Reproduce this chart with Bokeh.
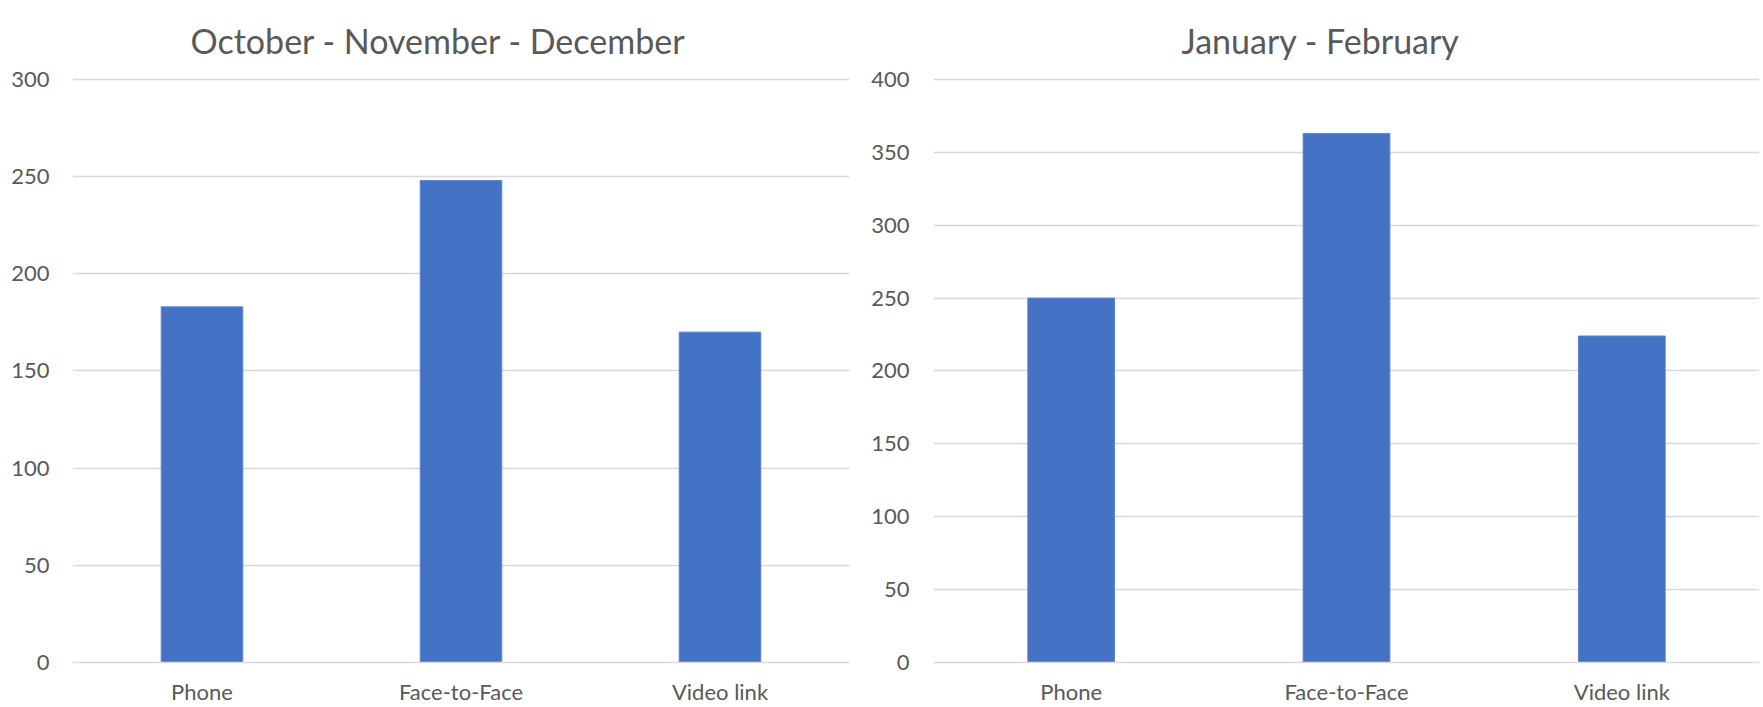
from bokeh.plotting import figure
from bokeh.layouts import row
from bokeh.models import FactorRange, Range1d, FixedTicker, Title
from bokeh.embed import file_html
from bokeh.resources import INLINE

categories = ["Phone", "Face-to-Face", "Video link"]
oct_dec_values = [183, 248, 170]
jan_feb_values = [250, 363, 224]
oct_dec_ticks = [0, 50, 100, 150, 200, 250, 300]
jan_feb_ticks = [0, 50, 100, 150, 200, 250, 300, 350, 400]
titles = ["October - November - December", "January - February"]

FONT = "Lato"
TXT = "#595959"
GRID = "#d9d9d9"
BAR = "#4472C4"


def make(title, values, ticks, width, left, right, title_offset, ystand):
    pad = ticks[-1] * 2.0 / 584
    p = figure(x_range=FactorRange(*categories), y_range=Range1d(0, ticks[-1] + pad),
               width=width, height=707, output_backend="svg", toolbar_location=None,
               title_location=None,
               min_border_left=left, min_border_right=right, min_border_top=77,
               min_border_bottom=44)
    p.vbar(x=categories, top=values, width=0.315, color=BAR, line_color="#5b84cc", line_width=1)
    p.add_layout(Title(text=title, align="left", vertical_align="bottom", text_font=FONT,
                       text_font_size="34px", text_font_style="normal", text_color=TXT,
                       offset=title_offset, standoff=33), "above")
    p.outline_line_color = None
    p.x_range.range_padding = 0
    p.yaxis.ticker = FixedTicker(ticks=ticks)
    p.yaxis.axis_line_color = None
    p.yaxis.major_tick_line_color = None
    p.yaxis.minor_tick_line_color = None
    p.yaxis.major_tick_out = 0
    p.yaxis.major_tick_in = 0
    p.yaxis.minor_tick_out = 0
    p.yaxis.major_label_standoff = ystand
    p.yaxis.major_label_text_font = FONT
    p.yaxis.major_label_text_font_size = "22px"
    p.yaxis.major_label_text_color = TXT
    p.xaxis.axis_line_color = GRID
    p.xaxis.axis_line_width = 1.5
    p.xaxis.major_tick_line_color = None
    p.xaxis.minor_tick_line_color = None
    p.xaxis.major_tick_out = 0
    p.xaxis.major_tick_in = 0
    p.xaxis.major_label_standoff = 15
    p.xaxis.major_label_text_font = FONT
    p.xaxis.major_label_text_font_size = "22px"
    p.xaxis.major_label_text_color = TXT
    p.xgrid.grid_line_color = None
    p.ygrid.grid_line_color = GRID
    p.ygrid.grid_line_width = 1.5
    return p


p1 = make(titles[0], oct_dec_values, oct_dec_ticks, 868, 72, 19, 118, 23)
p2 = make(titles[1], jan_feb_values, jan_feb_ticks, 895, 65, 4, 248, 24)
p = row(p1, p2)
open("out.html", "w").write(file_html(p, INLINE))
